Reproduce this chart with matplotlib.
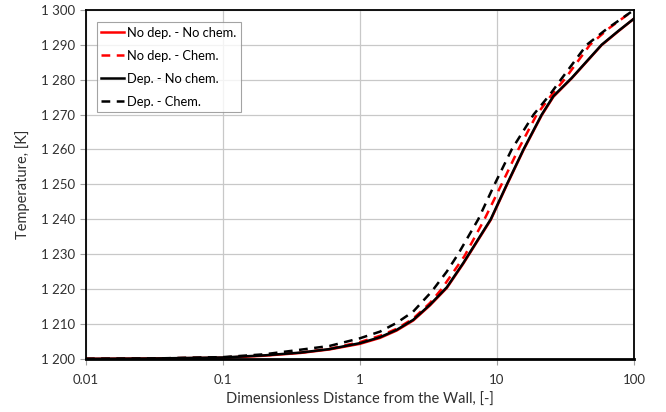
import numpy as np
import matplotlib
matplotlib.use("Agg")
import matplotlib.pyplot as plt
from matplotlib.ticker import FuncFormatter, FixedLocator, NullLocator

plt.rcParams["font.family"] = ["Lato", "DejaVu Sans"]

# distance from the wall (dimensionless) and temperature profiles, K
x_nodep_nochem = [0.01, 0.03, 0.1, 0.2, 0.37, 0.6, 1.0, 1.4, 1.85, 2.45, 3.24, 4.3, 5.68, 9.0, 11.8, 15.6, 21.2, 25.8, 35.1, 58, 77, 100]
t_nodep_nochem = [1200.0, 1200.1, 1200.3, 1200.9, 1201.7, 1202.7, 1204.3, 1206.0, 1208.1, 1211.0, 1215.3, 1220.3, 1227.3, 1239.8, 1249.8, 1259.8, 1269.8, 1275.1, 1280.4, 1289.9, 1293.9, 1297.5]

x_nodep_chem = [0.01, 0.03, 0.1, 0.2, 0.37, 0.6, 1.0, 1.4, 1.85, 2.44, 3.24, 3.94, 5.8, 8.1, 10.8, 14.3, 19.5, 25, 31.4, 47.7, 65, 100]
t_nodep_chem = [1200.0, 1200.1, 1200.4, 1201.0, 1201.8, 1202.9, 1204.8, 1206.6, 1208.6, 1211.5, 1216.0, 1220.0, 1229.5, 1240.0, 1250.0, 1260.0, 1270.0, 1275.6, 1280.3, 1290.0, 1294.6, 1300.0]

x_dep_nochem = [0.01, 0.03, 0.1, 0.2, 0.37, 0.6, 1.0, 1.4, 1.85, 2.45, 3.24, 4.3, 5.68, 9.0, 11.8, 15.6, 21.2, 25.8, 35.1, 58, 77, 100]
t_dep_nochem = [1200.0, 1200.1, 1200.4, 1201.0, 1201.8, 1202.8, 1204.5, 1206.2, 1208.3, 1211.2, 1215.5, 1220.5, 1227.5, 1240.0, 1250.0, 1260.0, 1270.0, 1275.3, 1280.5, 1290.0, 1294.0, 1297.5]

x_dep_chem = [0.01, 0.03, 0.1, 0.2, 0.365, 0.6, 1.0, 1.4, 1.85, 2.44, 3.34, 4.3, 5.2, 7.3, 9.6, 12.8, 18.5, 24.4, 29.6, 45.2, 63, 100]
t_dep_chem = [1200.0, 1200.1, 1200.5, 1201.3, 1202.6, 1203.7, 1205.9, 1207.8, 1210.3, 1213.5, 1219.3, 1225.0, 1230.0, 1240.0, 1250.0, 1260.0, 1270.0, 1275.8, 1280.3, 1290.0, 1294.5, 1300.0]

x_ticks = [0.01, 0.1, 1, 10, 100]
x_tick_labels = ["0.01", "0.1", "1", "10", "100"]
y_ticks = list(range(1200, 1301, 10))

fig = plt.figure(figsize=(6.66, 4.12), dpi=100)
ax = fig.add_axes([0.129, 0.129, 0.823, 0.847])

dash = (0, (3.5, 2.6))
ax.plot(x_nodep_nochem, t_nodep_nochem, color="#ff0000", lw=1.8, label="No dep. - No chem.")
ax.plot(x_nodep_chem, t_nodep_chem, color="#ff0000", lw=1.8, ls=dash, label="No dep. - Chem.")
ax.plot(x_dep_nochem, t_dep_nochem, color="black", lw=1.8, label="Dep. - No chem.")
ax.plot(x_dep_chem, t_dep_chem, color="black", lw=1.8, ls=dash, label="Dep. - Chem.")

ax.set_xscale("log")
ax.set_xlim(0.01, 100)
ax.set_ylim(1200, 1300)
ax.xaxis.set_major_locator(FixedLocator(x_ticks))
ax.xaxis.set_minor_locator(NullLocator())
ax.set_xticklabels(x_tick_labels)
ax.set_yticks(y_ticks)
ax.yaxis.set_major_formatter(FuncFormatter(lambda v, p: f"{int(v):,}".replace(",", " ")))

ax.grid(True, color="#c8c8c8", lw=0.9)
ax.set_axisbelow(True)
for side in ["top", "right", "left"]:
    ax.spines[side].set_color("black")
    ax.spines[side].set_linewidth(1.3)
ax.spines["bottom"].set_color("black")
ax.spines["bottom"].set_linewidth(2.0)
ax.tick_params(axis="both", direction="out", length=4, width=0.8, color="#a0a0a0",
               labelsize=9.5, labelcolor="#303030", pad=4)
ax.tick_params(axis="x", pad=7)

ax.set_xlabel("Dimensionless Distance from the Wall, [-]", fontsize=10.5, color="#303030", labelpad=5)
ax.set_ylabel("Temperature, [K]", fontsize=10.5, color="#303030", labelpad=8)

leg = ax.legend(loc="upper left", bbox_to_anchor=(0.02, 0.965), fontsize=9.3, frameon=True,
                fancybox=False, edgecolor="#8c8c8c", handlelength=1.75, handletextpad=0.25,
                borderpad=0.35, labelspacing=0.85, borderaxespad=0)
leg.get_frame().set_linewidth(0.8)

fig.savefig("out.png", dpi=100)
